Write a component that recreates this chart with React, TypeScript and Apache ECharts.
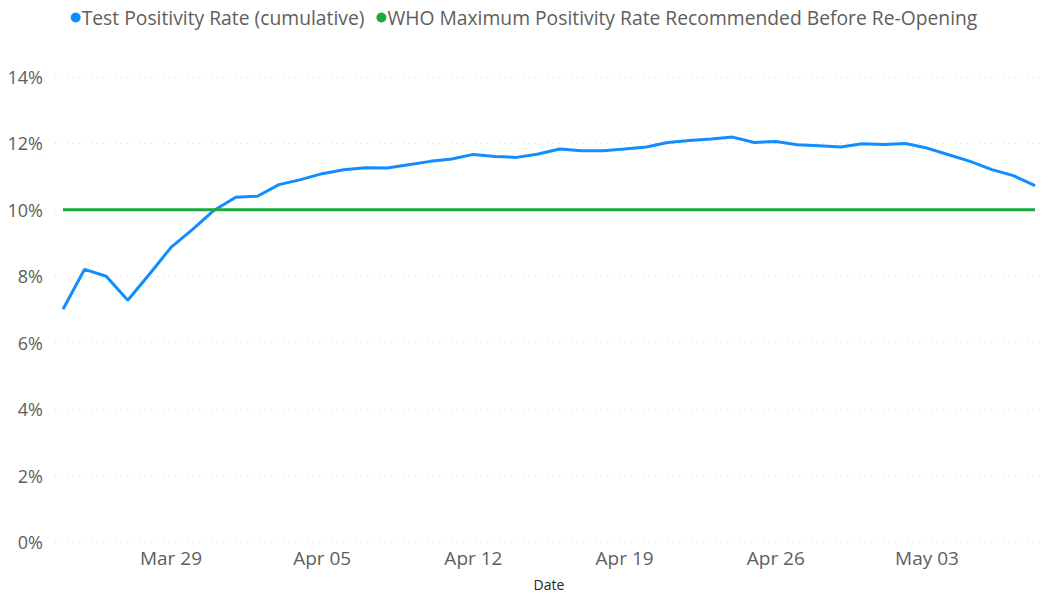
import React, { useEffect, useRef } from "react";
import * as echarts from "echarts";

const dates: string[] = [
  "Mar 24", "Mar 25", "Mar 26", "Mar 27", "Mar 28", "Mar 29", "Mar 30", "Mar 31",
  "Apr 01", "Apr 02", "Apr 03", "Apr 04", "Apr 05", "Apr 06", "Apr 07", "Apr 08",
  "Apr 09", "Apr 10", "Apr 11", "Apr 12", "Apr 13", "Apr 14", "Apr 15", "Apr 16",
  "Apr 17", "Apr 18", "Apr 19", "Apr 20", "Apr 21", "Apr 22", "Apr 23", "Apr 24",
  "Apr 25", "Apr 26", "Apr 27", "Apr 28", "Apr 29", "Apr 30", "May 01", "May 02",
  "May 03", "May 04", "May 05", "May 06", "May 07", "May 08",
];

const positivity: number[] = [
  7.01, 8.21, 8.0, 7.28, 8.06, 8.87, 9.41, 9.99,
  10.38, 10.41, 10.76, 10.91, 11.09, 11.21, 11.27, 11.26,
  11.36, 11.46, 11.53, 11.67, 11.61, 11.58, 11.68, 11.83,
  11.78, 11.78, 11.83, 11.89, 12.03, 12.09, 12.13, 12.19,
  12.03, 12.06, 11.96, 11.93, 11.89, 11.99, 11.97, 12.0,
  11.86, 11.66, 11.46, 11.21, 11.03, 10.73,
];

const whoThreshold = 10;
const labelIndices: number[] = [5, 12, 19, 26, 33, 40];
const yTicks: number[] = [0, 2, 4, 6, 8, 10, 12, 14];

export default function App() {
  const ref = useRef<HTMLDivElement>(null);
  useEffect(() => {
    if (!ref.current) return;
    const chart = echarts.init(ref.current, null, { renderer: "svg" });
    const font = "'Open Sans', 'Noto Sans', sans-serif";
    chart.setOption({
      animation: false,
      textStyle: { fontFamily: font },
      legend: {
        top: 3,
        left: "center",
        itemGap: 12,
        itemWidth: 10,
        itemHeight: 10,
        icon: "circle",
        textStyle: { fontSize: 19.3, color: "#605E5C", fontFamily: font, padding: [0, 0, 0, -4] },
        data: [
          "Test Positivity Rate (cumulative)",
          "WHO Maximum Positivity Rate Recommended Before Re-Opening",
        ],
      },
      grid: { left: 55, right: 5, top: 77, bottom: 41, containLabel: false },
      xAxis: {
        type: "value",
        min: -0.37,
        max: 45.37,
        name: "Date",
        nameLocation: "middle",
        nameGap: 35,
        nameTextStyle: { fontSize: 14, color: "#252423", fontFamily: font },
        axisLine: { show: false },
        axisTick: { show: false },
        splitLine: { show: false },
        axisLabel: {
          customValues: labelIndices,
          formatter: (v: number) => dates[Math.round(v)] ?? "",
          fontSize: 19,
          color: "#605E5C",
          margin: 6,
          fontFamily: font,
        },
      },
      yAxis: {
        type: "value",
        min: 0,
        max: 14,
        interval: 2,
        axisLine: { show: false },
        axisTick: { show: false },
        axisLabel: {
          formatter: (v: number) => (yTicks.includes(v) ? v + "%" : ""),
          fontSize: 18,
          color: "#605E5C",
          margin: 12,
          fontFamily: font,
        },
        splitLine: {
          show: true,
          lineStyle: { color: "#D9D9D9", type: [1, 5], width: 1 },
        },
      },
      series: [
        {
          name: "Test Positivity Rate (cumulative)",
          type: "line",
          data: positivity.map((v, i) => [i, v]),
          showSymbol: false,
          symbol: "circle",
          color: "#118DFF",
          lineStyle: { width: 3, color: "#118DFF" },
        },
        {
          name: "WHO Maximum Positivity Rate Recommended Before Re-Opening",
          type: "line",
          data: [[0, whoThreshold], [dates.length - 1, whoThreshold]],
          showSymbol: false,
          symbol: "circle",
          color: "#1AAB40",
          lineStyle: { width: 3, color: "#1AAB40" },
        },
      ],
    });
    return () => chart.dispose();
  }, []);
  return <div ref={ref} style={{ width: 1048, height: 596, position: "absolute", left: 0, top: 0 }} />;
}
